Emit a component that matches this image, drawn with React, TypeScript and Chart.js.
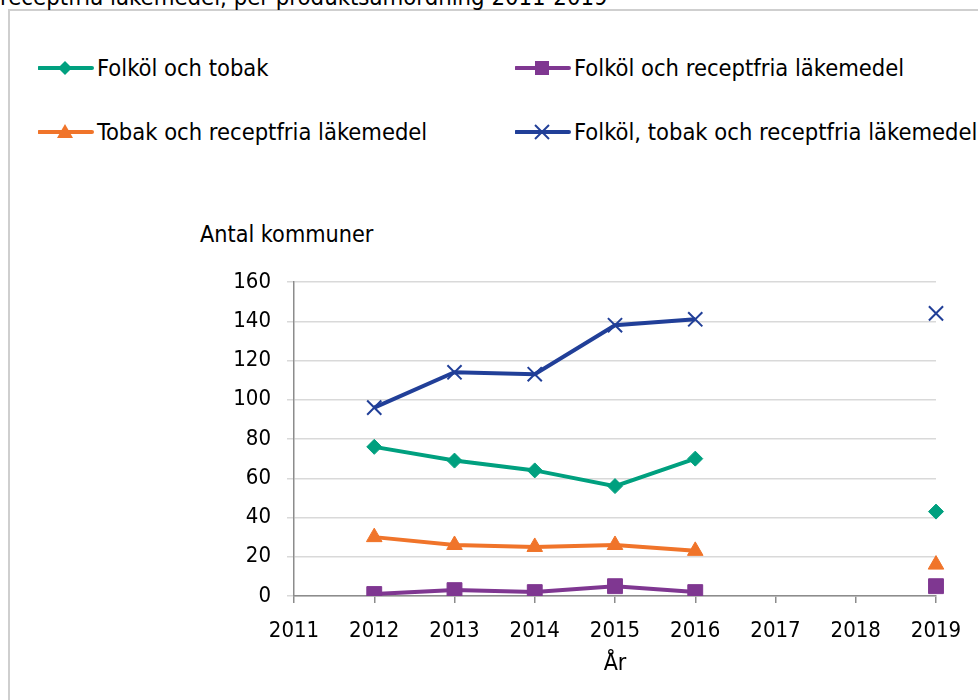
import React, { useEffect, useRef } from "react";
import { Chart, registerables } from "chart.js";

Chart.register(...registerables);

const years = ["2011", "2012", "2013", "2014", "2015", "2016", "2017", "2018", "2019"];
const folkolTobak = [null, 76, 69, 64, 56, 70, null, null, 43];
const folkolReceptfria = [null, 1, 3, 2, 5, 2, null, null, 5];
const tobakReceptfria = [null, 30, 26, 25, 26, 23, null, null, 16];
const allaTre = [null, 96, 114, 113, 138, 141, null, null, 144];
const yTicks = [0, 20, 40, 60, 80, 100, 120, 140, 160];

const FONT = "'DejaVu Sans Condensed', 'DejaVu Sans', sans-serif";
const GREEN = "#00a07f";
const PURPLE = "#7f3791";
const ORANGE = "#f0742a";
const BLUE = "#213f98";

const series = [
  { label: "Folköl och tobak", data: folkolTobak, color: GREEN, style: "rectRot", radius: 7.5, bw: 1 },
  { label: "Folköl och receptfria läkemedel", data: folkolReceptfria, color: PURPLE, style: "rect", radius: 10.5, bw: 1 },
  { label: "Tobak och receptfria läkemedel", data: tobakReceptfria, color: ORANGE, style: "triangle", radius: 9, bw: 1 },
  { label: "Folköl, tobak och receptfria läkemedel", data: allaTre, color: BLUE, style: "crossRot", radius: 10, bw: 2 },
];

const legendPos = [
  { x: 38, y: 68 },
  { x: 515, y: 68 },
  { x: 38, y: 132 },
  { x: 515, y: 132 },
];

function Marker({ style, color }: { style: string; color: string }) {
  let shape: React.ReactNode = null;
  const cx = 27, cy = 10;
  if (style === "rectRot") shape = <polygon points={`${cx},${cy - 7} ${cx + 7},${cy} ${cx},${cy + 7} ${cx - 7},${cy}`} fill={color} />;
  if (style === "rect") shape = <rect x={cx - 7} y={cy - 7} width={14} height={14} fill={color} />;
  if (style === "triangle") shape = <polygon points={`${cx},${cy - 8} ${cx + 8},${cy + 6} ${cx - 8},${cy + 6}`} fill={color} />;
  if (style === "crossRot")
    shape = (
      <g stroke={color} strokeWidth={2}>
        <line x1={cx - 7} y1={cy - 7} x2={cx + 7} y2={cy + 7} />
        <line x1={cx - 7} y1={cy + 7} x2={cx + 7} y2={cy - 7} />
      </g>
    );
  return (
    <svg width={56} height={20} style={{ position: "absolute", left: 0, top: -10 }}>
      <line x1={1} y1={10} x2={54} y2={10} stroke={color} strokeWidth={4} strokeLinecap="round" />
      {shape}
    </svg>
  );
}

export default function App() {
  const ref = useRef<HTMLCanvasElement>(null);
  useEffect(() => {
    if (!ref.current) return;
    Chart.defaults.font.family = FONT;
    Chart.defaults.color = "#000";
    const chart = new Chart(ref.current, {
      type: "line",
      data: {
        labels: years,
        datasets: series.map((s) => ({
          label: s.label,
          data: s.data,
          borderColor: s.color,
          backgroundColor: s.color,
          borderWidth: 4,
          pointStyle: s.style as any,
          pointRadius: s.radius,
          pointBorderWidth: s.bw,
          pointBorderColor: s.color,
          pointBackgroundColor: s.color,
          spanGaps: false,
          tension: 0,
        })),
      },
      options: {
        animation: false,
        responsive: false,
        layout: { padding: { left: 0, top: 282, right: 42, bottom: 0 } },
        plugins: { legend: { display: false }, tooltip: { enabled: false } },
        scales: {
          x: {
            offset: false,
            grid: { drawOnChartArea: false, drawTicks: true, tickLength: 7, tickColor: "#8c8c8c", lineWidth: 1.5 },
            border: { color: "#8c8c8c", width: 1.5 },
            ticks: { font: { size: 22 }, padding: 15, color: "#000", maxRotation: 0, autoSkip: false },
            title: { display: true, text: "År", font: { size: 23 }, color: "#000", padding: { top: 0, bottom: 22 } },
            afterFit: (s: any) => { s.height = 104; },
          },
          y: {
            min: 0,
            max: 160,
            afterBuildTicks: (s: any) => { s.ticks = yTicks.map((v) => ({ value: v })); },
            grid: { color: "#d9d9d9", lineWidth: 1.5, tickLength: 7, tickColor: "#d9d9d9" },
            border: { color: "#8c8c8c", width: 1.5 },
            ticks: { font: { size: 22 }, padding: 16, color: "#000" },
            afterFit: (s: any) => { s.width = 294; },
          },
        },
      },
    });
    return () => chart.destroy();
  }, []);

  return (
    <div style={{ position: "fixed", left: 0, top: 0, width: 978, height: 700, overflow: "hidden", background: "#fff", fontFamily: FONT, color: "#000" }}>
      <div style={{ position: "absolute", left: 8, top: 9, width: 1100, height: 900, border: "2px solid #cfcfcf", boxSizing: "border-box" }} />
      <div style={{ position: "absolute", left: 0, top: -17, fontSize: 23.7, whiteSpace: "nowrap", lineHeight: "28px" }}>
        receptfria läkemedel, per produktsamordning 2011-2019
      </div>
      {series.map((s, i) => (
        <div key={s.label} style={{ position: "absolute", left: legendPos[i].x, top: legendPos[i].y }}>
          <Marker style={s.style} color={s.color} />
          <span style={{ position: "absolute", left: 59, top: -14, fontSize: 23.5, lineHeight: "28px", whiteSpace: "nowrap" }}>{s.label}</span>
        </div>
      ))}
      <div style={{ position: "absolute", left: 200, top: 220, fontSize: 23.2, lineHeight: "28px", whiteSpace: "nowrap" }}>Antal kommuner</div>
      <canvas ref={ref} width={978} height={700} style={{ position: "absolute", left: 0, top: 0 }} />
    </div>
  );
}
